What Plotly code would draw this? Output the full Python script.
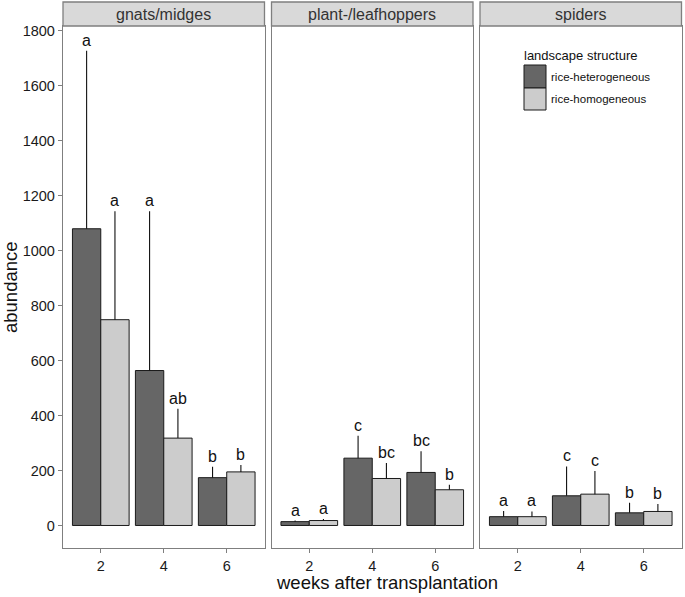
import plotly.graph_objects as go

# ---------------- data ----------------
weeks = ["2", "4", "6"]
panels = ["gnats/midges", "plant-/leafhoppers", "spiders"]
groups = ["rice-heterogeneous", "rice-homogeneous"]

gnats_het = [1080, 564, 174]
gnats_het_se = [648, 580, 40]
gnats_hom = [749, 318, 195]
gnats_hom_se = [395, 107, 25]

plant_het = [14, 245, 193]
plant_het_se = [4, 82, 77]
plant_hom = [18, 171, 130]
plant_hom_se = [6, 56, 18]

spider_het = [32, 108, 46]
spider_het_se = [21, 107, 37]
spider_hom = [32, 114, 51]
spider_hom_se = [19, 84, 27]

gnats_het_letters = ["a", "a", "b"]
gnats_hom_letters = ["a", "ab", "b"]
plant_het_letters = ["a", "c", "bc"]
plant_hom_letters = ["a", "bc", "b"]
spider_het_letters = ["a", "c", "b"]
spider_hom_letters = ["a", "c", "b"]

y_ticks = [0, 200, 400, 600, 800, 1000, 1200, 1400, 1600, 1800]

# ---------------- styling ----------------
W, H = 685, 597
ML, MR, MT, MB = 63, 3, 26, 49
PW = W - ML - MR
PH = H - MT - MB
DARK = "#666666"
LIGHT = "#cccccc"
OUTLINE = "#1a1a1a"
FRAME = "#7f7f7f"
STRIP = "#d9d9d9"
FONT = "Liberation Sans, Arial, sans-serif"

panel_w = 201.5
gap = 7.0
domains = []
for i in range(3):
    x0 = i * (panel_w + gap)
    domains.append([x0 / PW, min(1.0, (x0 + panel_w) / PW)])

data_sets = [
    (gnats_het, gnats_het_se, gnats_hom, gnats_hom_se, gnats_het_letters, gnats_hom_letters),
    (plant_het, plant_het_se, plant_hom, plant_hom_se, plant_het_letters, plant_hom_letters),
    (spider_het, spider_het_se, spider_hom, spider_hom_se, spider_het_letters, spider_hom_letters),
]

fig = go.Figure()
annotations = []
shapes = []

for i, (het, het_se, hom, hom_se, het_l, hom_l) in enumerate(data_sets):
    xa = "x" if i == 0 else f"x{i+1}"
    ya = "y" if i == 0 else f"y{i+1}"
    for vals, se, col, name in [(het, het_se, DARK, groups[0]), (hom, hom_se, LIGHT, groups[1])]:
        fig.add_trace(go.Bar(
            x=weeks, y=vals, name=name, xaxis=xa, yaxis=ya,
            marker=dict(color=col, line=dict(color=OUTLINE, width=1)),
            error_y=dict(type="data", symmetric=False, array=se,
                         arrayminus=[0] * len(se), color="#111111",
                         thickness=1.1, width=0),
            showlegend=False, hoverinfo="skip",
        ))
    # significance letters
    for j in range(len(weeks)):
        for vals, se, letters, off in [(het, het_se, het_l, -0.225), (hom, hom_se, hom_l, 0.225)]:
            annotations.append(dict(
                x=j + off, y=vals[j] + se[j], xref=xa, yref=ya,
                text=letters[j], showarrow=False, yanchor="bottom",
                xanchor="center", yshift=0,
                font=dict(family=FONT, size=16, color="#111111"),
            ))
    # strip
    d = domains[i]
    shapes.append(dict(type="rect", xref="paper", yref="paper",
                       x0=d[0], x1=d[1], y0=1.0, y1=1 + 24 / PH,
                       fillcolor=STRIP, line=dict(color=FRAME, width=1.3),
                       layer="above"))
    annotations.append(dict(x=(d[0] + d[1]) / 2, y=1 + 12 / PH, xref="paper",
                            yref="paper", text=panels[i], showarrow=False,
                            xanchor="center", yanchor="middle",
                            font=dict(family=FONT, size=16, color="#333333")))

layout_axes = {}
for i in range(3):
    xk = "xaxis" if i == 0 else f"xaxis{i+1}"
    yk = "yaxis" if i == 0 else f"yaxis{i+1}"
    layout_axes[xk] = dict(
        domain=domains[i], type="category", range=[-0.6, 2.6],
        showline=True, mirror=True, linecolor=FRAME, linewidth=1.3,
        ticks="outside", ticklen=4, tickcolor=FRAME, tickwidth=1.1,
        showgrid=False, zeroline=False, fixedrange=True,
        tickfont=dict(family=FONT, size=14.5, color="#1a1a1a"),
        anchor="y" if i == 0 else f"y{i+1}",
    )
    layout_axes[yk] = dict(
        domain=[0, 1], range=[-82, 1818],
        showline=True, mirror=True, linecolor=FRAME, linewidth=1.3,
        showgrid=False, zeroline=False, fixedrange=True,
        tickvals=y_ticks,
        ticks="outside" if i == 0 else "",
        ticklen=4, tickcolor=FRAME, tickwidth=1.1,
        showticklabels=(i == 0),
        tickfont=dict(family=FONT, size=14.5, color="#1a1a1a"),
        anchor="x" if i == 0 else f"x{i+1}",
    )

# legend (drawn manually)
def px_x(px):
    return (px - ML) / PW

def px_y(py):
    return (MT + PH - py) / PH

shapes.append(dict(type="rect", xref="paper", yref="paper",
                   x0=px_x(524), x1=px_x(546), y0=px_y(88), y1=px_y(65),
                   fillcolor=DARK, line=dict(color=OUTLINE, width=1)))
shapes.append(dict(type="rect", xref="paper", yref="paper",
                   x0=px_x(524), x1=px_x(546), y0=px_y(110), y1=px_y(88),
                   fillcolor=LIGHT, line=dict(color=OUTLINE, width=1)))
annotations.append(dict(x=px_x(522), y=px_y(55), xref="paper", yref="paper",
                        text="landscape structure", showarrow=False,
                        xanchor="left", yanchor="middle",
                        font=dict(family=FONT, size=13, color="#111111")))
for lbl, cy in [(groups[0], 76.5), (groups[1], 99)]:
    annotations.append(dict(x=px_x(549), y=px_y(cy), xref="paper", yref="paper",
                            text=lbl, showarrow=False, xanchor="left",
                            yanchor="middle",
                            font=dict(family=FONT, size=11.5, color="#111111")))

# axis titles
annotations.append(dict(x=px_x(387), y=px_y(582), xref="paper", yref="paper",
                        text="weeks after transplantation", showarrow=False,
                        xanchor="center", yanchor="middle",
                        font=dict(family=FONT, size=18.5, color="#111111")))
annotations.append(dict(x=px_x(10), y=px_y(287), xref="paper", yref="paper",
                        text="abundance", showarrow=False, textangle=-90,
                        xanchor="center", yanchor="middle",
                        font=dict(family=FONT, size=18.5, color="#111111")))

fig.update_layout(
    width=W, height=H,
    margin=dict(l=ML, r=MR, t=MT, b=MB),
    paper_bgcolor="white", plot_bgcolor="white",
    barmode="group", bargap=0.1, bargroupgap=0,
    showlegend=False,
    annotations=annotations, shapes=shapes,
    **layout_axes,
)

fig.write_html("out.html", config={"displayModeBar": False},
               post_script="document.body.style.margin='0px';document.body.style.overflow='hidden';")
